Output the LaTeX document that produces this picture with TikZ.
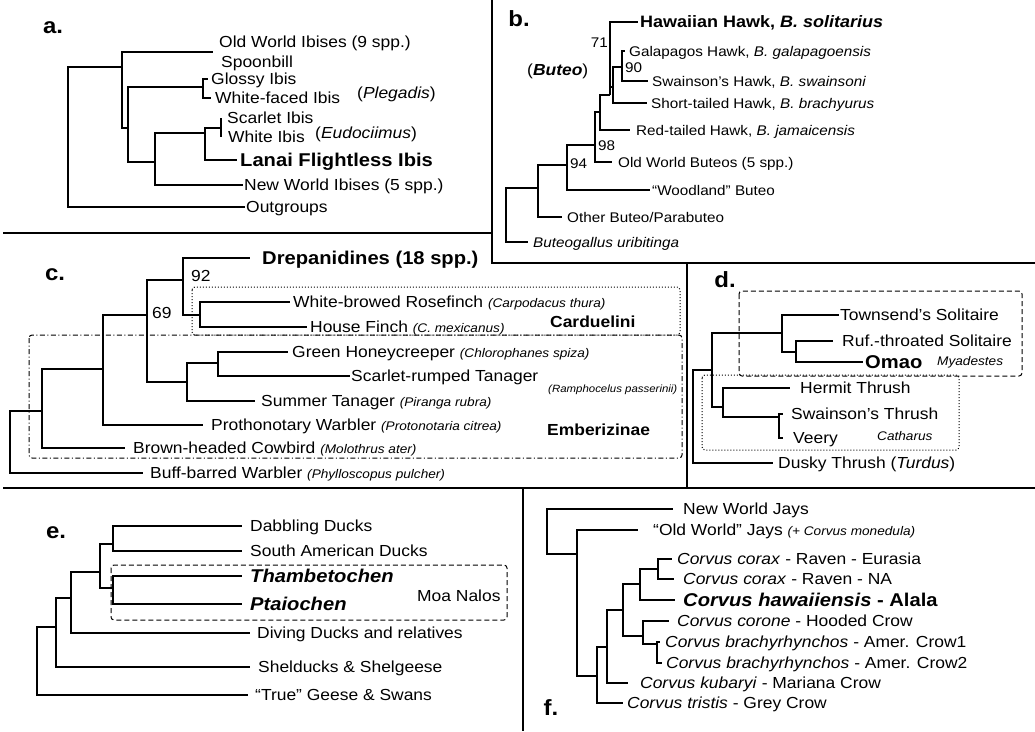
\documentclass[tikz,border=0pt]{standalone}
\usepackage{fontspec}
\setmainfont{Liberation Sans}[FakeStretch=1.09]
\usepackage{tikz}
\usetikzlibrary{positioning}

\newcommand\fsn{\fontsize{16}{18}\selectfont}
\newcommand\fsb{\fontsize{14}{16}\selectfont}
\newcommand\fsh{\fontsize{18.5}{20}\selectfont\bfseries}
\newcommand\fss{\fontsize{12.5}{14}\selectfont\itshape}
\newcommand\spp[1]{{\fss(#1)}}

\begin{document}
\begin{tikzpicture}[x=1pt, y=-1pt,
tree/.style={line width=1.1pt},
lab/.style={anchor=west, inner xsep=#1, inner ysep=0pt, text height=11.5pt, text depth=0pt, font=\fsn},
lab/.default=2pt,
labb/.style={lab=#1, font=\fsb, text height=10pt},
labb/.default=2pt,
hl/.style={lab=#1, font=\fsh, text height=13.2pt},
hl/.default=2pt,
hlb/.style={lab=#1, font=\fontsize{16.5}{18}\selectfont\bfseries, text height=11.8pt},
hlb/.default=2pt,
boot/.style={inner sep=0pt, font=\fsn},
panel/.style={inner sep=0pt, font=\fontsize{22}{24}\selectfont\bfseries},
grp/.style={anchor=west, inner sep=0pt, font=\fsn\bfseries},
genus/.style={anchor=west, inner sep=0pt, font=\fss},
frame/.style={line width=1.6pt},
clade/.style={line width=1pt, rounded corners=3pt},
dashbox/.style={clade, dash pattern=on 5pt off 3pt},
dotbox/.style={clade, dotted},
dotdash/.style={clade, dash pattern=on 5pt off 2.5pt on 1pt off 2.5pt}]
\useasboundingbox (0,0) rectangle (1035,731);

% frames
\draw[frame] (3,233) -- (492,233);
\draw[frame] (492,0) -- (492,263) -- (1035,263);
\draw[frame] (3,488) -- (1035,488);
\draw[frame] (687,263) -- (687,488);
\draw[frame] (523,488) -- (523,731);

% a. ibises
\node[panel] (pa) at (53,28) {a.};
\coordinate (a0) at (68,137);
\coordinate (a1) at (122,67);
\coordinate (a1e) at (213,52);
\coordinate (a2) at (128,128);
\coordinate (aPl) at (203,87);
\coordinate (a3) at (155,162);
\coordinate (a4) at (205,133);
\coordinate (aEu) at (221,128);
\node[lab] (aOW) at (217,42) {Old World Ibises (9 spp.)};
\node[lab] (aSp) at (219,62) {Spoonbill};
\node[lab=3pt] (aGl) at (208,79) {Glossy Ibis};
\node[lab=4pt] (aWf) at (211,98) {White-faced Ibis};
\node[lab=0pt] (aPlg) at (357,93) {(\textit{Plegadis})};
\node[lab=6pt] (aSc) at (221,118) {Scarlet Ibis};
\node[lab=7pt] (aWh) at (221,137) {White Ibis};
\node[lab=0pt] (aEud) at (315,133) {(\textit{Eudociimus})};
\node[hl=3pt] (aLa) at (237,160) {Lanai Flightless Ibis};
\node[lab=1pt] (aNW) at (243,185) {New World Ibises (5 spp.)};
\node[lab=1pt] (aOut) at (245,207) {Outgroups};
\draw[tree] (a0) |- (a1) (a0) |- (aOut.west)
  (a1) |- (a1e) (a1) |- (a2)
  (a2) |- (aPl) (a2) |- (a3)
  (aPl) |- (aGl.west) (aPl) |- (aWf.west)
  (a3) |- (a4) (a3) |- (aNW.west)
  (a4) |- (aEu) (a4) |- (aLa.west);
\draw[tree] (aEu |- aSc.west) -- (aEu |- aWh.west);

% b. hawks
\node[panel] (pb) at (519,19) {b.};
\coordinate (b0) at (506,215);
\coordinate (b1) at (538,188);
\coordinate (b94) at (567,165);
\coordinate (b98) at (595,145);
\coordinate (b2) at (600,112);
\coordinate (b71) at (610,95);
\coordinate (b3) at (613,87);
\coordinate (b90) at (622,67);
\node[hlb=2pt] (bHa) at (638,22) {Hawaiian Hawk, \textit{B. solitarius}};
\node[labb=4pt] (bGa) at (625,51) {Galapagos Hawk, \textit{B. galapagoensis}};
\node[labb=4pt] (bSw) at (648,81) {Swainson's Hawk, \textit{B. swainsoni}};
\node[labb=4pt] (bSt) at (647,103) {Short-tailed Hawk, \textit{B. brachyurus}};
\node[labb=6pt] (bRt) at (630,130) {Red-tailed Hawk, \textit{B. jamaicensis}};
\node[labb=6pt] (bOW) at (612,162) {Old World Buteos (5 spp.)};
\node[labb=2pt] (bWo) at (650,190) {“Woodland” Buteo};
\node[labb=5pt] (bOt) at (562,217) {Other Buteo/Parabuteo};
\node[labb=5pt] (bBg) at (528,242) {\textit{Buteogallus uribitinga}};
\node[boot, font=\fsb, anchor=east] (b71l) at (608,43) {71};
\node[boot, font=\fsb, anchor=west] (b90l) at (625,68) {90};
\node[boot, font=\fsb, anchor=west] (b98l) at (598,146) {98};
\node[boot, font=\fsb, anchor=west] (b94l) at (570,164) {94};
\node[lab=0pt] (bBu) at (527,70) {(\textbf{\textit{Buteo}})};
\draw[tree] (b0) |- (b1) (b0) |- (bBg.west)
  (b1) |- (b94) (b1) |- (bOt.west)
  (b94) |- (b98) (b94) |- (bWo.west)
  (b98) |- (b2) (b98) |- (bOW.west)
  (b2) |- (b71) (b2) |- (bRt.west)
  (b71) |- (bHa.west) (b71) |- (b3)
  (b3) |- (b90) (b3) |- (bSt.west)
  (b90) |- (bGa.west) (b90) |- (bSw.west);

% c. finches
\node[panel] (pc) at (55,275) {c.};
\coordinate (c0) at (10,440);
\coordinate (c1) at (42,411);
\coordinate (c2) at (103,369);
\coordinate (c69) at (147,315);
\coordinate (c92) at (183,280);
\coordinate (cFi) at (200,315);
\coordinate (cTa) at (187,382);
\coordinate (cGr) at (218,363);
\draw[dotbox] (192,287) rectangle (680,335);
\draw[dotdash] (29,335) rectangle (682,458);
\node[hl=12pt] (cDr) at (250,258) {Drepanidines (18 spp.)};
\node[lab=3pt] (cWb) at (290,302) {White-browed Rosefinch \spp{Carpodacus thura}};
\node[lab=3pt] (cHo) at (307,327) {House Finch \spp{C. mexicanus}};
\node[lab=4pt] (cGh) at (288,352) {Green Honeycreeper \spp{Chlorophanes spiza}};
\node[lab=1pt] (cSc) at (350,376) {Scarlet-rumped Tanager};
\node[lab=6pt] (cSu) at (255,401) {Summer Tanager \spp{Piranga rubra}};
\node[lab=8pt] (cPr) at (203,425) {Prothonotary Warbler \spp{Protonotaria citrea}};
\node[lab=8pt] (cBr) at (125,448) {Brown-headed Cowbird \spp{Molothrus ater}};
\node[lab=7pt] (cBu) at (143,473) {Buff-barred Warbler \spp{Phylloscopus pulcher}};
\node[boot, anchor=west] (c92l) at (191,276) {92};
\node[boot, anchor=west] (c69l) at (152,313) {69};
\node[grp] (cCa) at (550,322) {Carduelini};
\node[grp] (cEm) at (547,430) {Emberizinae};
\node[genus, font=\fontsize{10.5}{12}\selectfont\itshape] (cRa) at (548,390) {(Ramphocelus passerinii)};
\draw[tree] (c0) |- (c1) (c0) |- (cBu.west)
  (c1) |- (c2) (c1) |- (cBr.west)
  (c2) |- (c69) (c2) |- (cPr.west)
  (c69) |- (c92) (c69) |- (cTa)
  (c92) |- (cDr.west) (c92) |- (cFi)
  (cFi) |- (cWb.west) (cFi) |- (cHo.west)
  (cTa) |- (cGr) (cTa) |- (cSu.west)
  (cGr) |- (cGh.west) (cGr) |- (cSc.west);

% d. thrushes
\node[panel] (pd) at (725,280) {d.};
\coordinate (d0) at (693,415);
\coordinate (d1) at (712,370);
\coordinate (dMy) at (782,333);
\coordinate (dRO) at (796,352);
\coordinate (dCa) at (723,407);
\coordinate (dSV) at (779,417);
\draw[dashbox] (739,291) rectangle (1022,376);
\draw[dotbox] (702,375) rectangle (959,450);
\node[lab=1pt] (dTo) at (839,315) {Townsend's Solitaire};
\node[lab=9pt] (dRu) at (833,341) {Ruf.-throated Solitaire};
\node[hl=2pt] (dOm) at (863,362) {Omao};
\node[genus] (dMya) at (937,362) {Myadestes};
\node[lab=10pt] (dHe) at (790,388) {Hermit Thrush};
\node[lab=8pt] (dSw) at (783,414) {Swainson's Thrush};
\node[lab=10pt] (dVe) at (783,438) {Veery};
\node[genus] (dCat) at (877,436) {Catharus};
\node[lab=5pt] (dDu) at (773,463) {Dusky Thrush (\textit{Turdus})};
\draw[tree] (d0) |- (d1) (d0) |- (dDu.west)
  (d1) |- (dMy) (d1) |- (dCa)
  (dMy) |- (dTo.west) (dMy) |- (dRO)
  (dRO) |- (dRu.west) (dRO) |- (dOm.west)
  (dCa) |- (dHe.west) (dCa) |- (dSV)
  (dSV) |- (dSw.west) (dSV) |- (dVe.west);

% e. ducks
\node[panel] (pe) at (56,533) {e.};
\coordinate (e0) at (37,660);
\coordinate (e1) at (56,627);
\coordinate (e2) at (71,598);
\coordinate (e3) at (100,572);
\coordinate (eDa) at (113,544);
\coordinate (eMo) at (113,588);
\draw[dashbox] (111,565) rectangle (507,620);
\node[lab=8pt] (eDb) at (242,526) {Dabbling Ducks};
\node[lab=8pt] (eSA) at (242,551) {South American Ducks};
\node[hl=8pt] (eTh) at (242,576) {\textit{Thambetochen}};
\node[hl=8pt] (ePt) at (242,604) {\textit{Ptaiochen}};
\node[lab=7pt] (eDi) at (250,633) {Diving Ducks and relatives};
\node[lab=8pt] (eSh) at (250,667) {Shelducks \& Shelgeese};
\node[lab=7pt] (eTr) at (248,695) {“True” Geese \& Swans};
\node[lab=0pt] (eMN) at (417,596) {Moa Nalos};
\draw[tree] (e0) |- (e1) (e0) |- (eTr.west)
  (e1) |- (e2) (e1) |- (eSh.west)
  (e2) |- (e3) (e2) |- (eDi.west)
  (e3) |- (eDa) (e3) |- (eMo)
  (eDa) |- (eDb.west) (eDa) |- (eSA.west)
  (eMo) |- (eTh.west) (eMo) |- (ePt.west);

% f. crows
\node[panel] (pf) at (551,708) {f.};
\coordinate (f0) at (547,530);
\coordinate (f1) at (577,554);
\coordinate (f2) at (597,676);
\coordinate (f3) at (607,647);
\coordinate (f4) at (623,610);
\coordinate (f5) at (640,584);
\coordinate (f6) at (643,636);
\coordinate (f7) at (658,569);
\coordinate (f8) at (657,644);
\node[lab=10pt] (fNW) at (673,509) {New World Jays};
\node[lab=15pt] (fOW) at (638,530) {“Old World” Jays \spp{+ Corvus monedula}};
\node[lab=5pt] (fEu) at (672,559) {\textit{Corvus corax} - Raven - Eurasia};
\node[lab=9pt] (fNA) at (674,579) {\textit{Corvus corax} - Raven - NA};
\node[hl=8pt] (fHa) at (675,600) {\textit{Corvus hawaiiensis} - Alala};
\node[lab=8pt] (fCo) at (669,621) {\textit{Corvus corone} - Hooded Crow};
\node[lab=5pt] (fB1) at (660,642) {\textit{Corvus brachyrhynchos} - Amer. Crow1};
\node[lab=4pt] (fB2) at (662,663) {\textit{Corvus brachyrhynchos} - Amer. Crow2};
\node[lab=12pt] (fKu) at (628,683) {\textit{Corvus kubaryi} - Mariana Crow};
\node[lab=4pt] (fTr) at (623,703) {\textit{Corvus tristis} - Grey Crow};
\draw[tree] (f0) |- (fNW.west) (f0) |- (f1)
  (f1) |- (fOW.west) (f1) |- (f2)
  (f2) |- (f3) (f2) |- (fTr.west)
  (f3) |- (f4) (f3) |- (fKu.west)
  (f4) |- (f5) (f4) |- (f6)
  (f5) |- (f7) (f5) |- (fHa.west)
  (f7) |- (fEu.west) (f7) |- (fNA.west)
  (f6) |- (fCo.west) (f6) |- (f8)
  (f8) |- (fB1.west) (f8) |- (fB2.west);
\end{tikzpicture}
\end{document}
